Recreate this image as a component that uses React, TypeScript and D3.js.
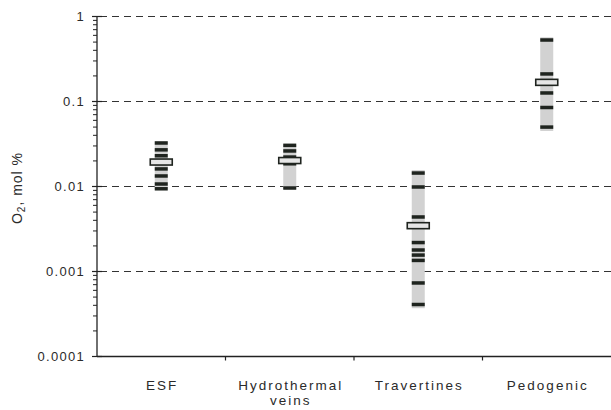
import React from "react";
import * as d3 from "d3";

const categories = ["ESF", "Hydrothermal veins", "Travertines", "Pedogenic"];
const categoryLines = [["ESF"], ["Hydrothermal", "veins"], ["Travertines"], ["Pedogenic"]];
const rangeMax = [0.034, 0.031, 0.0156, 0.57];
const rangeMin = [0.0093, 0.0094, 0.00037, 0.045];
const means = [0.0194, 0.0202, 0.00346, 0.168];
const points = [
  [0.0325, 0.027, 0.023, 0.0161, 0.0133, 0.0107, 0.0094],
  [0.0305, 0.0262, 0.0222, 0.0185, 0.0096],
  [0.0144, 0.00987, 0.00438, 0.00219, 0.00179, 0.00156, 0.00135, 0.000733, 0.000409],
  [0.529, 0.211, 0.126, 0.085, 0.05],
];
const majorTicks = [1, 0.1, 0.01, 0.001, 0.0001];
const tickLabels = ["1", "0.1", "0.01", "0.001", "0.0001"];
const gridValues = [1, 0.1, 0.01, 0.001];

const W = 611;
const H = 410;
const axisX = 97;
const axisY = 356.5;

export default function App() {
  const y = d3.scaleLog().domain([0.0001, 1]).range([axisY, 16.5]);
  const x = d3.scaleBand().domain(categories).range([axisX, 611]);
  const bw = x.bandwidth();

  const minorTicks: number[] = [];
  for (let e = -4; e < 0; e++) {
    for (let m = 2; m <= 9; m++) minorTicks.push(m * Math.pow(10, e));
  }

  const barW = 13;
  const meanW = 22;
  const tickH = 3.5;

  return (
    <svg
      width={W}
      height={H}
      style={{ position: "absolute", left: 0, top: 0, background: "#fff" }}
      fontFamily="Arial, 'Liberation Sans', sans-serif"
    >
      {/* grid */}
      {gridValues.map((v) => (
        <line
          key={v}
          x1={axisX + 3}
          x2={W}
          y1={y(v)}
          y2={y(v)}
          stroke="#333"
          strokeWidth={1.2}
          strokeDasharray="7,5"
        />
      ))}
      {/* bars */}
      {categories.map((c, i) => {
        const cx = (x(c) as number) + bw / 2;
        return (
          <g key={c}>
            <rect
              x={cx - barW / 2}
              width={barW}
              y={y(rangeMax[i])}
              height={y(rangeMin[i]) - y(rangeMax[i])}
              fill="#d2d2d2"
            />
            {points[i].map((p, j) => (
              <rect
                key={j}
                x={cx - barW / 2}
                width={barW}
                y={y(p) - tickH / 2}
                height={tickH}
                fill="#1f241f"
              />
            ))}
            <rect
              x={cx - meanW / 2}
              width={meanW}
              y={y(means[i]) - 3}
              height={6}
              fill="#e6e6e6"
              stroke="#1f241f"
              strokeWidth={1.6}
            />
          </g>
        );
      })}
      {/* y axis */}
      <line x1={axisX} x2={axisX} y1={y(1)} y2={axisY} stroke="#222" strokeWidth={1.3} />
      {minorTicks.map((v) => (
        <line key={v} x1={axisX - 4} x2={axisX} y1={y(v)} y2={y(v)} stroke="#222" strokeWidth={1} />
      ))}
      {majorTicks.map((v, i) => (
        <g key={v}>
          <line x1={axisX - 5} x2={axisX + 5} y1={y(v)} y2={y(v)} stroke="#222" strokeWidth={1.2} />
          <text
            x={85}
            y={y(v) + 4.5}
            textAnchor="end"
            fontSize={13}
            letterSpacing={1.3}
            fill="#2a2a2a"
          >
            {tickLabels[i]}
          </text>
        </g>
      ))}
      {/* x axis */}
      <line x1={axisX} x2={W} y1={axisY} y2={axisY} stroke="#222" strokeWidth={1.3} />
      {categories.slice(1).map((c) => (
        <line
          key={c}
          x1={x(c) as number}
          x2={x(c) as number}
          y1={axisY}
          y2={axisY + 4}
          stroke="#222"
          strokeWidth={1.2}
        />
      ))}
      {categories.map((c, i) => {
        const cx = (x(c) as number) + bw / 2;
        return (
          <text key={c} textAnchor="middle" fontSize={13.5} letterSpacing={2} fill="#2a2a2a">
            {categoryLines[i].map((l, k) => (
              <tspan key={k} x={cx + 1} y={390 + k * 15}>
                {l}
              </tspan>
            ))}
          </text>
        );
      })}
      {/* y label */}
      <text
        transform="translate(22,188) rotate(-90)"
        textAnchor="middle"
        fontSize={14}
        letterSpacing={1}
        fill="#2a2a2a"
      >
        O<tspan fontSize={10} dy={3}>2</tspan>
        <tspan dy={-3}>, mol %</tspan>
      </text>
    </svg>
  );
}
